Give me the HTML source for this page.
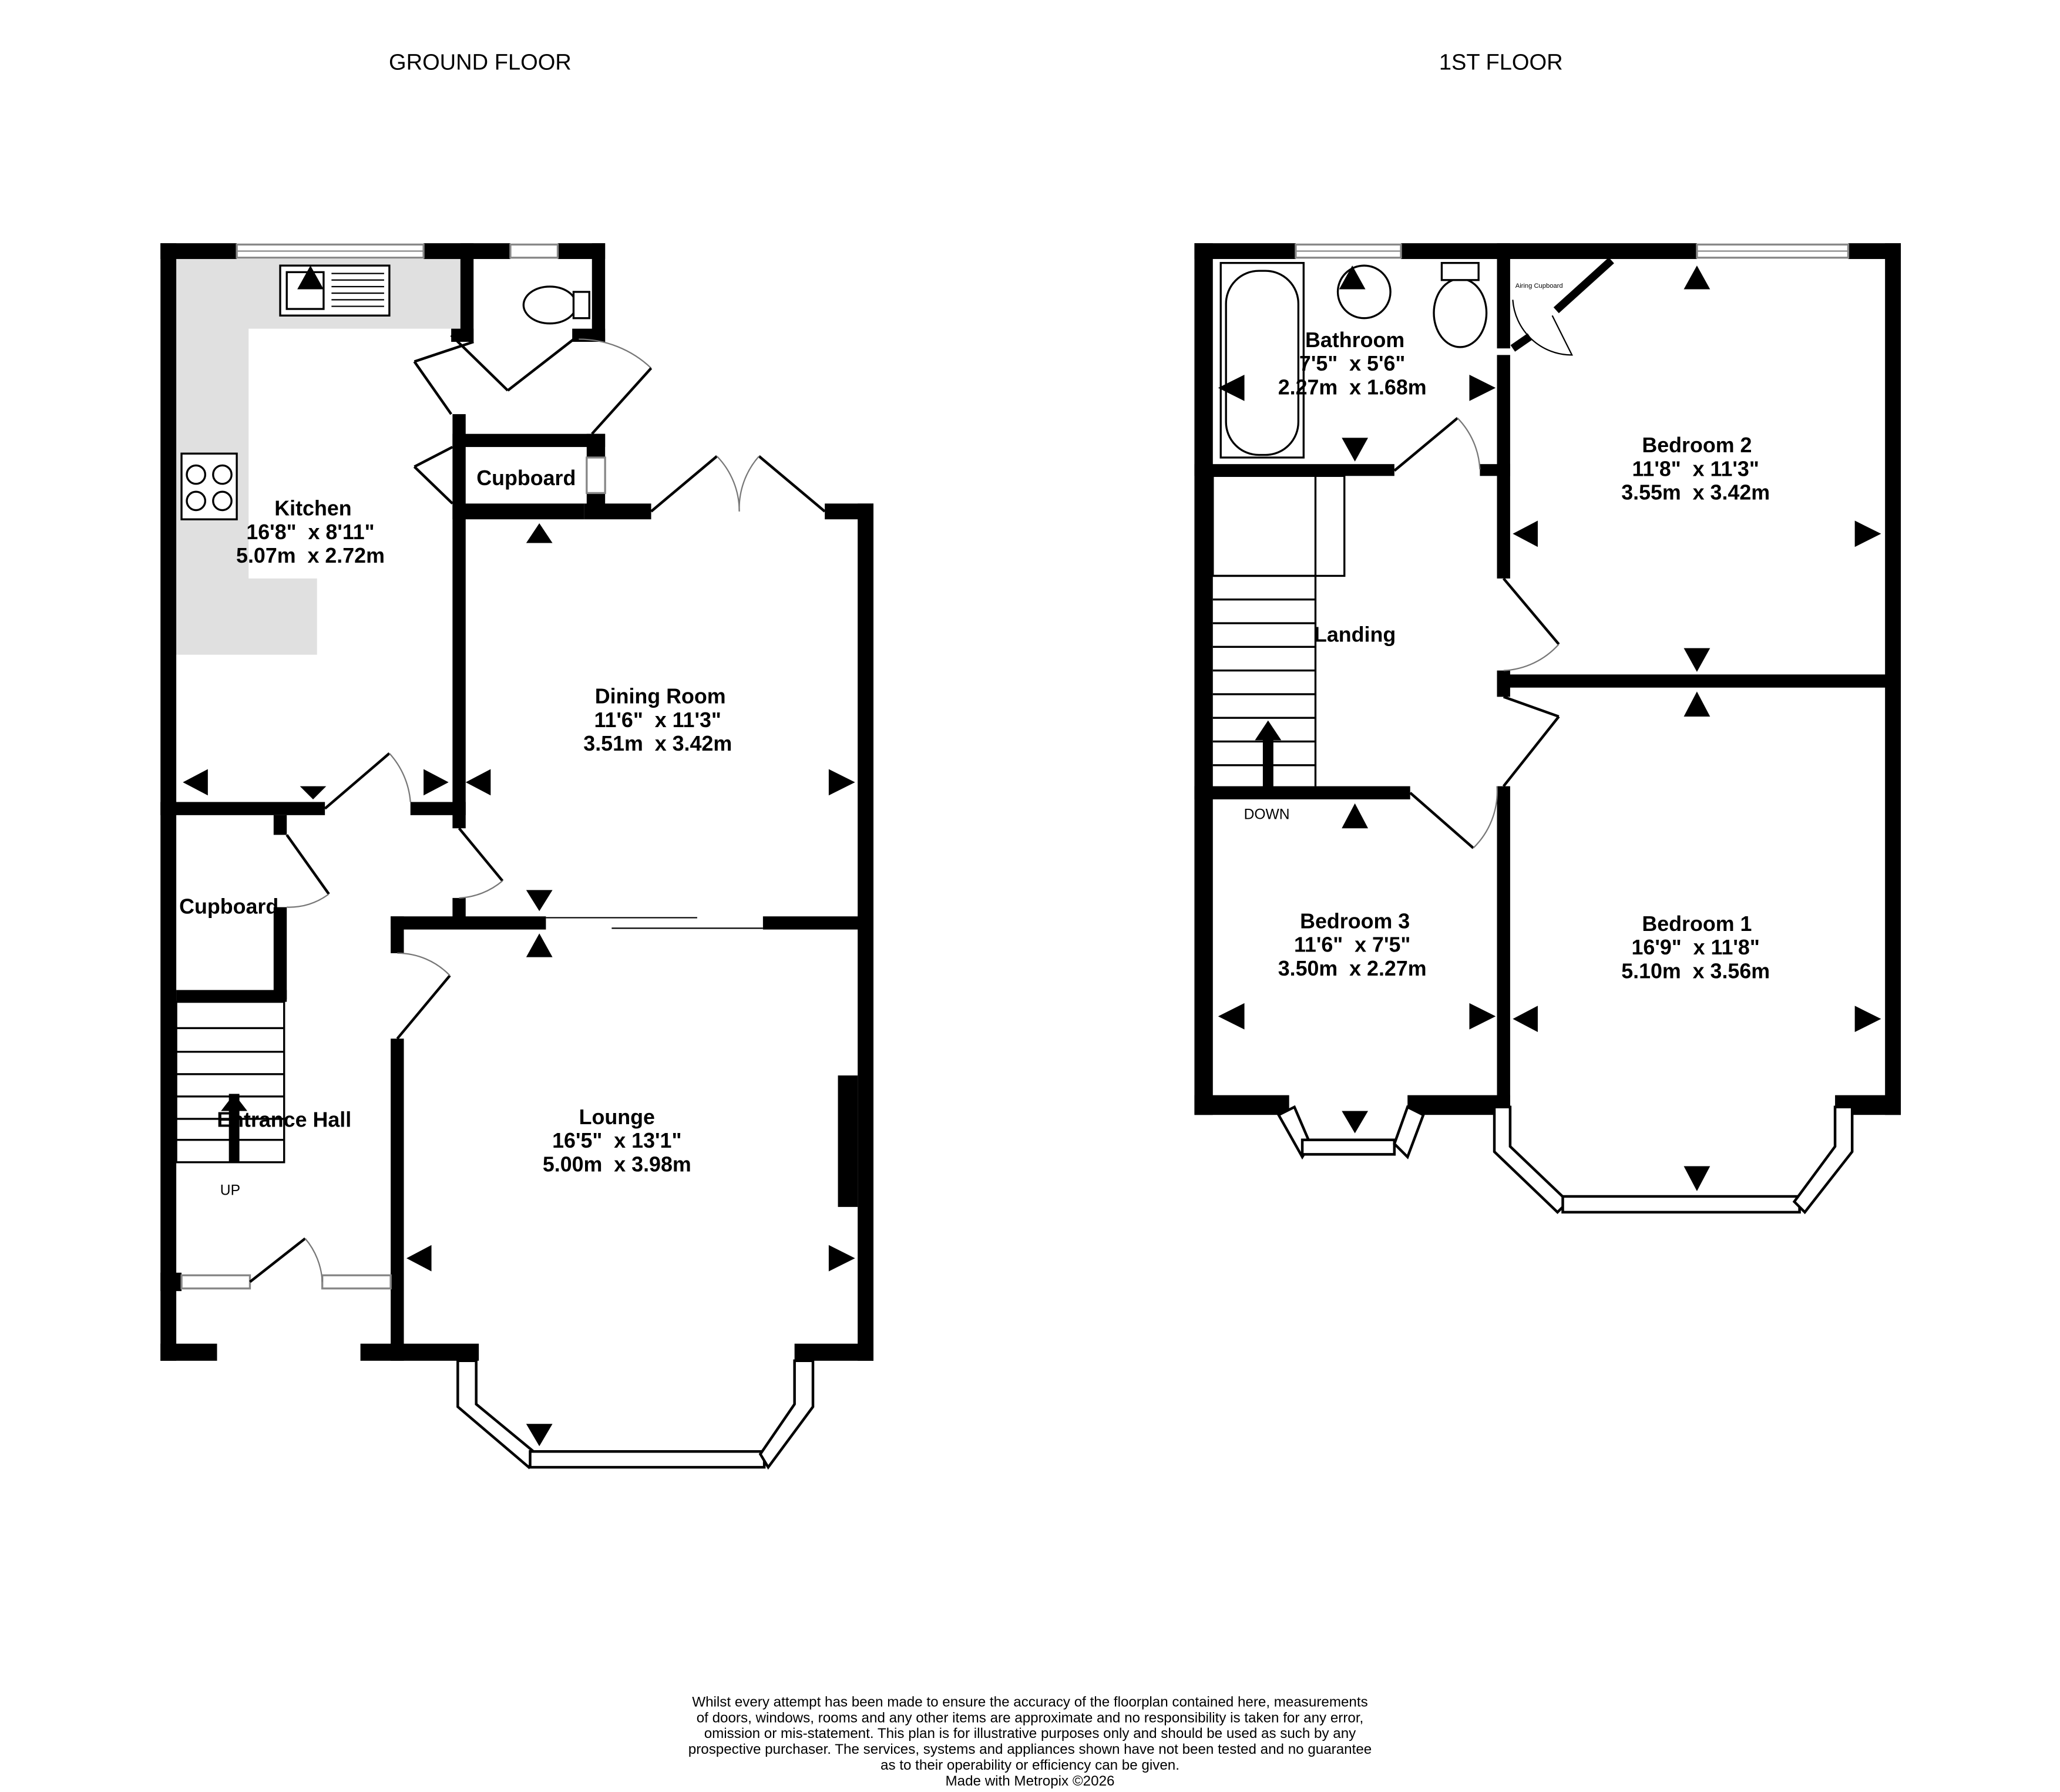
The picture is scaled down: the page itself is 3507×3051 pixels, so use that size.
<!DOCTYPE html>
<html><head><meta charset="utf-8"><style>
html,body{margin:0;padding:0;background:#fff}
svg{display:block}
text{font-family:"Liberation Sans",sans-serif;white-space:pre}
.l{font-weight:bold;font-size:16px;text-anchor:middle}
</style></head><body>
<svg width="3507" height="3051" viewBox="0 0 1566 1363" preserveAspectRatio="none" xmlns="http://www.w3.org/2000/svg" xml:space="preserve">
<rect width="1566" height="1363" fill="#fff"/>
<text x="365" y="53" font-size="17" text-anchor="middle">GROUND FLOOR</text>
<text x="1141" y="53" font-size="17" text-anchor="middle">1ST FLOOR</text>

<polygon points="134,197 350,197 350,250 189,250 189,440 241,440 241,498 134,498" fill="#e0e0e0"/>

<g fill="#000">
<rect x="122" y="185" width="58" height="12"/>
<rect x="322" y="185" width="66" height="12"/>
<rect x="424" y="185" width="36" height="12"/>
<rect x="122" y="185" width="12" height="850"/>
<rect x="450" y="185" width="10" height="75"/>
<rect x="350" y="185" width="10" height="75"/>
<rect x="343" y="250" width="17" height="10"/>
<rect x="435" y="250" width="25" height="10"/>
<rect x="344" y="315" width="10" height="315"/>
<rect x="344" y="330" width="116" height="10"/>
<rect x="446" y="330" width="14" height="18"/>
<rect x="446" y="375" width="14" height="12"/>
<rect x="344" y="383" width="100" height="12"/>
<rect x="444" y="383" width="51" height="12"/>
<rect x="627" y="383" width="37" height="12"/>
<rect x="652" y="383" width="12" height="652"/>
<rect x="297" y="697" width="118" height="10"/>
<rect x="580" y="697" width="84" height="10"/>
<rect x="344" y="683" width="10" height="20"/>
<rect x="122" y="610" width="125" height="10"/>
<rect x="312" y="610" width="42" height="10"/>
<rect x="208" y="620" width="10" height="15"/>
<rect x="208" y="690" width="10" height="70"/>
<rect x="134" y="753" width="84" height="9"/>
<rect x="297" y="697" width="10" height="28"/>
<rect x="297" y="790" width="10" height="245"/>
<rect x="274" y="1022" width="90" height="13"/>
<rect x="604" y="1022" width="60" height="13"/>
<rect x="122" y="1022" width="43" height="13"/>
<rect x="637" y="818" width="15" height="100"/>
<rect x="122" y="968" width="16" height="14"/>
<rect x="297" y="968" width="10" height="14"/>
<rect x="174" y="832" width="8" height="52"/>
<polygon points="168,845 178,832 188,845"/>

<rect x="908" y="185" width="77" height="12"/>
<rect x="1065" y="185" width="225" height="12"/>
<rect x="1405" y="185" width="40" height="12"/>
<rect x="908" y="185" width="14" height="663"/>
<rect x="1433" y="185" width="12" height="663"/>
<rect x="1138" y="185" width="10" height="80"/>
<rect x="1138" y="270" width="10" height="170"/>
<rect x="1125" y="353" width="23" height="9"/>
<rect x="908" y="353" width="152" height="9"/>
<rect x="1138" y="510" width="10" height="20"/>
<rect x="1138" y="513" width="307" height="10"/>
<rect x="1138" y="598" width="10" height="250"/>
<rect x="908" y="598" width="164" height="10"/>
<rect x="908" y="833" width="72" height="15"/>
<rect x="1070" y="833" width="78" height="15"/>
<rect x="1395" y="833" width="50" height="15"/>
<rect x="960" y="560" width="8" height="40"/>
<polygon points="954,563 964,548 974,563"/>
</g>

<g fill="#fff" stroke="#888" stroke-width="1.5">
<rect x="180" y="186" width="142" height="10"/>
<rect x="388" y="186" width="36" height="10"/>
<rect x="446" y="348" width="14" height="27"/>
<rect x="138" y="970" width="52" height="10"/>
<rect x="245" y="970" width="52" height="10"/>
<rect x="985" y="186" width="80" height="10"/>
<rect x="1290" y="186" width="115" height="10"/>
</g>
<g stroke="#888" stroke-width="1"><line x1="180" y1="191" x2="322" y2="191"/><line x1="985" y1="191" x2="1065" y2="191"/><line x1="1290" y1="191" x2="1405" y2="191"/></g>

<g fill="#fff" stroke="#000" stroke-width="2">
<polygon points="348,1035 362,1035 362,1068 408,1106 402,1116 348,1070"/>
<rect x="403" y="1104" width="178" height="12"/>
<polygon points="604,1035 618,1035 618,1070 584,1116 578,1106 604,1068"/>
<polygon points="972,848 984,842 996,870 990,880"/>
<rect x="990" y="867" width="70" height="11"/>
<polygon points="1070,842 1082,848 1070,880 1060,870"/>
<polygon points="1136,842 1148,842 1148,872 1192,914 1184,922 1136,876"/>
<rect x="1188" y="910" width="180" height="12"/>
<polygon points="1395,842 1408,842 1408,876 1372,922 1364,914 1395,872"/>
</g>

<g fill="none" stroke="#000" stroke-width="2">
<line x1="247" y1="615" x2="296" y2="573"/><path d="M296,573 A62,62 0 0 1 312,610" stroke="#777" stroke-width="1"/>
<line x1="218" y1="635" x2="250" y2="680"/><path d="M250,680 A50,50 0 0 1 218,690" stroke="#777" stroke-width="1"/>
<line x1="349" y1="630" x2="382" y2="670"/><path d="M382,670 A55,55 0 0 1 349,683" stroke="#777" stroke-width="1"/>
<line x1="302" y1="790" x2="342" y2="742"/><path d="M342,742 A55,55 0 0 0 302,725" stroke="#777" stroke-width="1"/>
<line x1="190" y1="975" x2="232" y2="942"/><path d="M232,942 A55,55 0 0 1 245,975" stroke="#777" stroke-width="1"/>
<line x1="360" y1="260" x2="315" y2="275"/><line x1="315" y1="275" x2="343" y2="315"/>
<line x1="343" y1="255" x2="386" y2="297"/><line x1="386" y1="297" x2="440" y2="255"/><path d="M440,258 A80,80 0 0 1 495,280" stroke="#777" stroke-width="1"/>
<line x1="495" y1="280" x2="450" y2="330"/>
<line x1="344" y1="340" x2="315" y2="355"/><line x1="315" y1="355" x2="344" y2="383"/>
<line x1="495" y1="389" x2="545" y2="347"/><path d="M545,347 A60,60 0 0 1 562,389" stroke="#777" stroke-width="1"/>
<line x1="627" y1="389" x2="577" y2="347"/><path d="M577,347 A60,60 0 0 0 562,389" stroke="#777" stroke-width="1"/>
<line x1="415" y1="698" x2="530" y2="698" stroke-width="1"/><line x1="465" y1="706" x2="580" y2="706" stroke-width="1"/>
<line x1="1060" y1="358" x2="1108" y2="318"/><path d="M1108,318 A60,60 0 0 1 1125,357" stroke="#777" stroke-width="1"/>
<line x1="1143" y1="440" x2="1185" y2="490"/><path d="M1185,490 A60,60 0 0 1 1143,510" stroke="#777" stroke-width="1"/>
<line x1="1143" y1="530" x2="1185" y2="545"/><line x1="1185" y1="545" x2="1143" y2="598"/>
<line x1="1072" y1="603" x2="1120" y2="645"/><path d="M1120,645 A60,60 0 0 0 1138,598" stroke="#777" stroke-width="1"/>
<path d="M1180,240 L1195,270 A45,45 0 0 1 1150,228" stroke-width="1"/>
</g>
<line x1="1150" y1="265" x2="1163" y2="256" stroke="#000" stroke-width="6"/>
<line x1="1183" y1="236" x2="1225" y2="198" stroke="#000" stroke-width="6"/>

<g fill="none" stroke="#000" stroke-width="1.5">
<rect x="134" y="762" width="82" height="122"/>
<line x1="134" y1="782" x2="216" y2="782"/><line x1="134" y1="800" x2="216" y2="800"/><line x1="134" y1="817" x2="216" y2="817"/>
<line x1="134" y1="834" x2="216" y2="834"/><line x1="134" y1="851" x2="216" y2="851"/><line x1="134" y1="867" x2="216" y2="867"/>
<rect x="922" y="362" width="100" height="76"/>
<line x1="1000" y1="362" x2="1000" y2="598"/>
<line x1="922" y1="438" x2="1000" y2="438"/><line x1="922" y1="456" x2="1000" y2="456"/><line x1="922" y1="474" x2="1000" y2="474"/>
<line x1="922" y1="492" x2="1000" y2="492"/><line x1="922" y1="510" x2="1000" y2="510"/><line x1="922" y1="528" x2="1000" y2="528"/>
<line x1="922" y1="546" x2="1000" y2="546"/><line x1="922" y1="564" x2="1000" y2="564"/><line x1="922" y1="582" x2="1000" y2="582"/>
</g>

<g fill="#fff" stroke="#000" stroke-width="1.5">
<rect x="213" y="202" width="83" height="38"/><rect x="218" y="207" width="28" height="28"/>
<g stroke-width="1"><line x1="252" y1="208" x2="292" y2="208"/><line x1="252" y1="213" x2="292" y2="213"/><line x1="252" y1="218" x2="292" y2="218"/><line x1="252" y1="223" x2="292" y2="223"/><line x1="252" y1="228" x2="292" y2="228"/><line x1="252" y1="233" x2="292" y2="233"/></g>
<rect x="138" y="345" width="42" height="50"/>
<circle cx="149" cy="361" r="7"/><circle cx="169" cy="361" r="7"/><circle cx="149" cy="381" r="7"/><circle cx="169" cy="381" r="7"/>
<ellipse cx="418" cy="232" rx="20" ry="14"/><rect x="436" y="222" width="12" height="20"/>
<rect x="928" y="200" width="63" height="148"/><rect x="932" y="206" width="55" height="140" rx="25"/>
<ellipse cx="1037" cy="222" rx="20" ry="20"/>
<ellipse cx="1110" cy="238" rx="20" ry="26"/><rect x="1096" y="200" width="28" height="13"/>
</g>

<g fill="#000">
<polygon points="226,220 236,202 246,220"/>
<polygon points="139,595 158,585 158,605"/><polygon points="228,598 248,598 238,608"/><polygon points="341,595 322,585 322,605"/>
<polygon points="354,595 373,585 373,605"/><polygon points="650,595 630,585 630,605"/>
<polygon points="400,413 410,398 420,413"/><polygon points="400,677 420,677 410,693"/><polygon points="400,728 410,710 420,728"/>
<polygon points="309,957 328,947 328,967"/><polygon points="650,957 630,947 630,967"/>
<polygon points="400,1083 420,1083 410,1100"/>
<polygon points="1018,220 1028,202 1038,220"/>
<polygon points="926,295 946,285 946,305"/><polygon points="1137,295 1117,285 1117,305"/><polygon points="1020,333 1040,333 1030,351"/>
<polygon points="1280,220 1290,202 1300,220"/>
<polygon points="1150,406 1169,396 1169,416"/><polygon points="1430,406 1410,396 1410,416"/>
<polygon points="1280,493 1300,493 1290,511"/><polygon points="1280,545 1290,526 1300,545"/>
<polygon points="1020,630 1030,611 1040,630"/>
<polygon points="926,773 946,763 946,783"/><polygon points="1137,773 1117,763 1117,783"/>
<polygon points="1150,775 1169,765 1169,785"/><polygon points="1430,775 1410,765 1410,785"/>
<polygon points="1020,845 1040,845 1030,862"/><polygon points="1280,887 1300,887 1290,906"/>
</g>

<text class="l" x="238" y="392">Kitchen</text><text class="l" x="236" y="410">16'8"  x 8'11"</text><text class="l" x="236" y="428">5.07m  x 2.72m</text>
<text class="l" x="400" y="369">Cupboard</text>
<text class="l" x="502" y="535">Dining Room</text><text class="l" x="500" y="553">11'6"  x 11'3"</text><text class="l" x="500" y="571">3.51m  x 3.42m</text>
<text class="l" x="174" y="695">Cupboard</text>
<text class="l" x="216" y="857">Entrance Hall</text>
<text x="175" y="909" font-size="11" text-anchor="middle">UP</text>
<text class="l" x="469" y="855">Lounge</text><text class="l" x="469" y="873">16'5"  x 13'1"</text><text class="l" x="469" y="891">5.00m  x 3.98m</text>
<text class="l" x="1030" y="264">Bathroom</text><text class="l" x="1028" y="282">7'5"  x 5'6"</text><text class="l" x="1028" y="300">2.27m  x 1.68m</text>
<text x="1170" y="219" font-size="5" text-anchor="middle">Airing Cupboard</text>
<text class="l" x="1290" y="344">Bedroom 2</text><text class="l" x="1289" y="362">11'8"  x 11'3"</text><text class="l" x="1289" y="380">3.55m  x 3.42m</text>
<text class="l" x="1030" y="488">Landing</text>
<text x="963" y="623" font-size="11" text-anchor="middle">DOWN</text>
<text class="l" x="1030" y="706">Bedroom 3</text><text class="l" x="1028" y="724">11'6"  x 7'5"</text><text class="l" x="1028" y="742">3.50m  x 2.27m</text>
<text class="l" x="1290" y="708">Bedroom 1</text><text class="l" x="1289" y="726">16'9"  x 11'8"</text><text class="l" x="1289" y="744">5.10m  x 3.56m</text>

<g font-size="10.8" text-anchor="middle">
<text x="783" y="1298">Whilst every attempt has been made to ensure the accuracy of the floorplan contained here, measurements</text>
<text x="783" y="1310">of doors, windows, rooms and any other items are approximate and no responsibility is taken for any error,</text>
<text x="783" y="1322">omission or mis-statement. This plan is for illustrative purposes only and should be used as such by any</text>
<text x="783" y="1334">prospective purchaser. The services, systems and appliances shown have not been tested and no guarantee</text>
<text x="783" y="1346">as to their operability or efficiency can be given.</text>
<text x="783" y="1358">Made with Metropix ©2026</text>
</g>
</svg>
</body></html>
